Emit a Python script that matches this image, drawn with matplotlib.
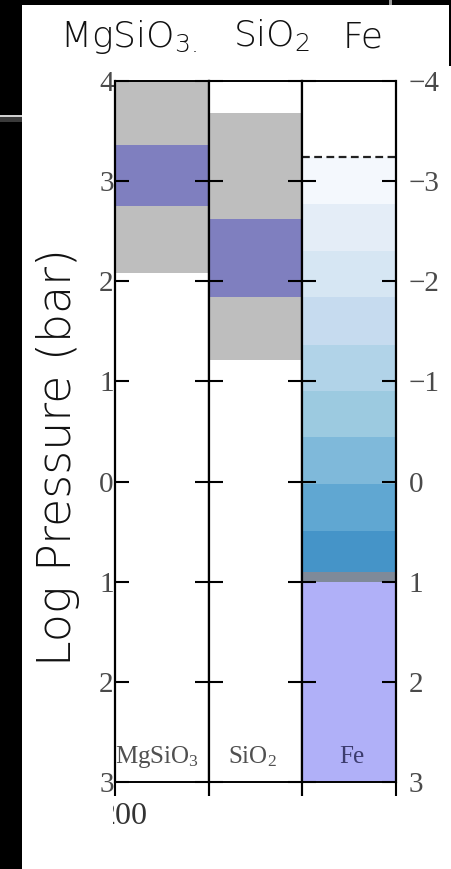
import matplotlib
matplotlib.use("Agg")
import matplotlib.pyplot as plt
from matplotlib.patches import Rectangle

# ---- data (log pressure, bar) ----
columns = ["MgSiO$_3$", "SiO$_2$", "Fe"]
header_labels = [r"MgSiO$_{\mathsf{3.}}$", r"SiO$_{\mathsf{2}}$", "Fe"]

mg_gray = (-4.0, -2.08)
mg_core = (-3.36, -2.75)
si_gray = (-3.68, -1.21)
si_core = (-2.62, -1.84)

fe_cloud_top = -3.24
fe_band_edges = [-3.24, -2.77, -2.30, -1.84, -1.36, -0.90, -0.45, 0.02, 0.49, 0.90]
fe_band_colors = ["#f4f8fd", "#e4edf7", "#d6e6f3", "#c6dbef", "#b1d3e8",
                  "#9ccae0", "#7fb9da", "#60a7d2", "#4594c8"]
fe_transition = (0.90, 1.00)
fe_deep = (1.00, 3.00)

y_ticks = [-4, -3, -2, -1, 0, 1, 2, 3]
left_tick_labels = ["4", "3", "2", "1", "0", "1", "2", "3"]
right_tick_labels = ["\u22124", "\u22123", "\u22122", "\u22121", "0", "1", "2", "3"]

GRAY = "#bebebe"
PURPLE = "#7f7fbf"
TRANS = "#7f8a99"
LAVENDER = "#b0b0f8"
TICKCOL = "#4a4a4a"

SANS = "DejaVu Sans"
SERIF = "Liberation Serif"

# serif math for labels inside the columns, light sans (\mathsf) for the header
plt.rcParams["mathtext.fontset"] = "custom"
plt.rcParams["mathtext.rm"] = SERIF
plt.rcParams["mathtext.it"] = SERIF
plt.rcParams["mathtext.bf"] = SERIF
plt.rcParams["mathtext.sf"] = "DejaVu Sans:light"

W, H = 452, 869
fig = plt.figure(figsize=(W / 100, H / 100), dpi=100)
fig.patch.set_facecolor("black")

def px(x0, y0, x1, y1):
    """Rectangle in pixel units (origin top-left) -> figure fraction."""
    return (x0 / W, 1 - y1 / H, (x1 - x0) / W, (y1 - y0) / H)

def frect(x0, y0, x1, y1, color, z=-1):
    l, b, w, h = px(x0, y0, x1, y1)
    fig.patches.append(Rectangle((l, b), w, h, transform=fig.transFigure,
                                 facecolor=color, edgecolor="none", zorder=z))

# panel background and frame details
frect(22, 5, 449, 869, "white")
frect(449, 66, 452, 869, "white")
frect(389, 0, 392, 5, "#9a9a9a")
frect(0, 115, 22, 117, "#cfcfcf")
frect(0, 117, 22, 122, "#3a3a3a")

# axes geometry
ax_left, ax_right = 115, 396
ax_top, ax_bot = 81, 782
col_w = (ax_right - ax_left) / 3

axes = []
for i in range(3):
    l, b, w, h = px(ax_left + i * col_w, ax_top, ax_left + (i + 1) * col_w, ax_bot)
    ax = fig.add_axes([l, b, w, h])
    ax.set_facecolor("white")
    ax.set_xlim(0, 1)
    ax.set_ylim(3, -4)
    ax.set_yticks(y_ticks)
    ax.set_xticks([0, 1])
    ax.set_xticklabels([])
    ax.tick_params(axis="y", which="both", direction="in", left=True, right=True,
                   length=10, width=1.5, labelleft=False, labelright=False)
    ax.tick_params(axis="x", direction="out", length=10, width=1.5,
                   top=False, bottom=True)
    for s in ["left", "right"]:
        ax.spines[s].set_linewidth(1.6)
    for s in ["top", "bottom"]:
        ax.spines[s].set_linewidth(1.4)
    axes.append(ax)

ax_mg, ax_si, ax_fe = axes

def band(ax, rng, color):
    ax.bar(0.5, rng[1] - rng[0], bottom=rng[0], width=1.0, color=color,
           edgecolor="none", zorder=1)

band(ax_mg, mg_gray, GRAY)
band(ax_mg, mg_core, PURPLE)
band(ax_si, si_gray, GRAY)
band(ax_si, si_core, PURPLE)
for top, bot, c in zip(fe_band_edges[:-1], fe_band_edges[1:], fe_band_colors):
    band(ax_fe, (top, bot), c)
band(ax_fe, fe_transition, TRANS)
band(ax_fe, fe_deep, LAVENDER)
ax_fe.axhline(fe_cloud_top, color="#222222", lw=1.6, ls=(0, (3.5, 2.0)), zorder=2)

# outer tick labels
ax_mg.tick_params(axis="y", labelleft=True, pad=1, labelsize=21, labelcolor=TICKCOL)
ax_mg.set_yticklabels(left_tick_labels, fontfamily=SERIF)
ax_fe.tick_params(axis="y", labelright=True, pad=9, labelsize=21, labelcolor=TICKCOL)
ax_fe.set_yticklabels(right_tick_labels, fontfamily=SERIF)

# column names inside the bottom of each column
name_colors = ["#505050", "#505050", "#3c3c6e"]
name_x = [0.45, 0.47, 0.53]
for ax, name, c, x in zip(axes, columns, name_colors, name_x):
    ax.text(x, 2.81, name, ha="center", va="baseline", fontsize=18,
            color=c, fontfamily=SERIF, zorder=3)

# bottom axis fragment, left part hidden behind the panel edge
fig.text(123.5 / W, 1 - 816 / H, "200", ha="center", va="center",
         fontsize=23, color="#333333", fontfamily=SERIF, zorder=3)
frect(90, 798, 113.2, 836, "white", z=4)

# header row
hdr_x = [129, 271.5, 363]
for x, s in zip(hdr_x, header_labels):
    fig.text(x / W, 1 - 47 / H, s, ha="center", va="baseline", fontsize=26,
             color="#111111", fontfamily=SANS, fontweight="light")

# vertical axis title
fig.text(58 / W, 1 - 457 / H, "Log Pressure (bar)", rotation=90, ha="center",
         va="center", fontsize=33, color="#111111", fontfamily=SANS,
         fontweight="light")

fig.savefig("out.png", dpi=100, facecolor=fig.get_facecolor())
